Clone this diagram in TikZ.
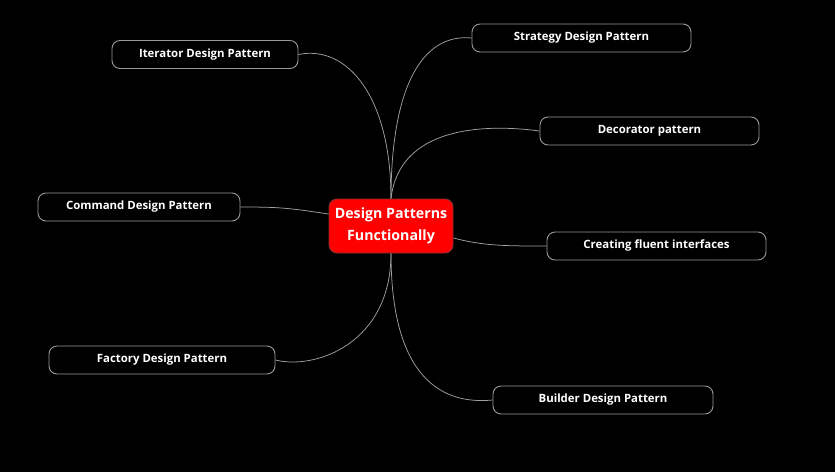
\documentclass[tikz,border=0pt]{standalone}
\usepackage{fontspec}
\setmainfont{Open Sans}
\begin{document}
\begin{tikzpicture}[x=1pt,y=-1pt,
  leaf/.style={draw=leafborder, line width=0.9pt, rounded corners=8pt, fill=black,
    text=white, font=\fontsize{11.4}{13}\selectfont\bfseries, inner sep=0pt,
    minimum height=28pt},
  hub/.style={draw=hubborder, line width=0.9pt, rounded corners=8pt, fill=red,
    text=white, font=\fontsize{14.2}{21.5}\selectfont\bfseries, align=center,
    minimum width=124pt, minimum height=54pt, inner sep=0pt},
  link/.style={draw=linkgray, line width=0.75pt}]
\definecolor{leafborder}{HTML}{999999}
\definecolor{hubborder}{HTML}{8A3030}
\definecolor{linkgray}{HTML}{A0A0A0}
\fill[black] (0,0) rectangle (835,472);
\useasboundingbox (0,0) rectangle (835,472);

\node[hub] (c) at (391,226) {Design Patterns\\Functionally};

\node[leaf, minimum width=186pt] (it) at (205,54.5) {Iterator Design Pattern};
\node[leaf, minimum width=219pt] (str) at (581.5,38) {Strategy Design Pattern};
\node[leaf, minimum width=219pt] (dec) at (649.5,131) {Decorator pattern};
\node[leaf, minimum width=202pt] (cmd) at (139,207) {Command Design Pattern};
\node[leaf, minimum width=219pt] (cf) at (656.5,246) {Creating fluent interfaces};
\node[leaf, minimum width=226pt] (fac) at (162,360) {Factory Design Pattern};
\node[leaf, minimum width=220pt] (bld) at (603,400) {Builder Design Pattern};

\draw[link] (c.north) .. controls +(0,-110) and +(-50,-5) .. (str.west);
\draw[link] (c.north) .. controls +(0,-100) and +(50,-10) .. (it.east);
\draw[link] (c.north) .. controls +(8,-70) and +(-60,-8) .. (dec.west);
\draw[link] ([yshift=12pt]c.west) .. controls +(-40,-6) and +(40,0) .. (cmd.east);
\draw[link] ([yshift=-12pt]c.east) .. controls +(30,8) and +(-40,0) .. (cf.west);
\draw[link] (c.south) .. controls +(0,90) and +(40,10) .. (fac.east);
\draw[link] (c.south) .. controls +(0,125) and +(-50,5) .. (bld.west);
\end{tikzpicture}
\end{document}
